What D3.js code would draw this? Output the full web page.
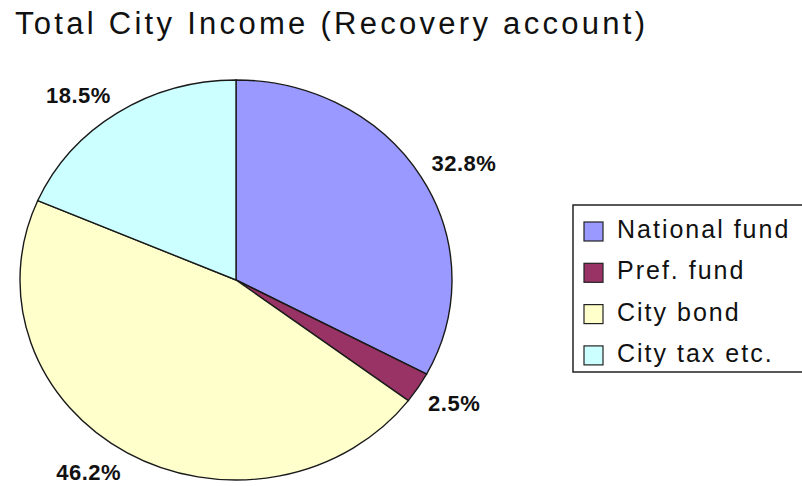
<!DOCTYPE html>
<html>
<head>
<meta charset="utf-8">
<script src="https://cdn.jsdelivr.net/npm/d3@7"></script>
<style>
  body { margin: 0; background: #fff; }
  svg { display: block; font-family: "Liberation Sans", Arial, sans-serif; }
</style>
</head>
<body>
<div id="chart"></div>
<script>
// data
const categories = ["National fund", "Pref. fund", "City bond", "City tax etc."];
const shares = [32.8, 2.5, 46.2, 18.5];
const colors = ["#9999ff", "#993366", "#ffffcc", "#ccffff"];

const width = 802, height = 486;
const cx = 236, cy = 280;
const ry = 200, rx = 216;   // the pie is a bit stretched sideways

const svg = d3.select("#chart").append("svg")
    .attr("width", width)
    .attr("height", height);

svg.append("rect").attr("width", width).attr("height", height).attr("fill", "#fff");

// title
svg.append("text")
    .attr("x", 15)
    .attr("y", 34)
    .attr("font-size", "31px")
    .attr("textLength", 630)
    .attr("lengthAdjust", "spacing")
    .attr("fill", "#111")
    .text("Total City Income (Recovery account)");

const pie = d3.pie().sort(null).value(d => d)(shares);
const arc = d3.arc().innerRadius(0).outerRadius(ry);

const g = svg.append("g")
    .attr("transform", `translate(${cx},${cy}) scale(${rx / ry},1)`);

g.selectAll("path")
    .data(pie)
    .join("path")
    .attr("d", arc)
    .attr("fill", (d, i) => colors[i])
    .attr("stroke", "#1a1a1a")
    .attr("stroke-width", 1.4)
    .attr("vector-effect", "non-scaling-stroke");

// percent labels just outside the rim
const off = 12;
svg.selectAll(".pct")
    .data(pie)
    .join("text")
    .attr("class", "pct")
    .each(function(d) {
        const a = (d.startAngle + d.endAngle) / 2;
        const sx = Math.sin(a), sy = -Math.cos(a);
        const x = cx + rx * sx + off * sx;
        const y = cy + ry * sy + off * sy;
        d3.select(this)
            .attr("x", x)
            .attr("y", y)
            .attr("text-anchor", sx >= 0 ? "start" : "end")
            .attr("dy", sy < 0 ? "0em" : "0.75em");
    })
    .attr("font-size", "22px")
    .attr("font-weight", "bold")
    .attr("letter-spacing", "0.5px")
    .attr("fill", "#111")
    .text(d => d3.format(".1f")(d.data) + "%");

// legend, its right side runs off the picture
const legend = svg.append("g").attr("transform", "translate(573,205)");
legend.append("rect")
    .attr("x", 0).attr("y", 0)
    .attr("width", 260).attr("height", 167)
    .attr("fill", "#fff")
    .attr("stroke", "#222")
    .attr("stroke-width", 1.5);

const item = legend.selectAll(".item")
    .data(categories)
    .join("g")
    .attr("class", "item")
    .attr("transform", (d, i) => `translate(0,${i * 41.3})`);

item.append("rect")
    .attr("x", 11).attr("y", 17)
    .attr("width", 19).attr("height", 19)
    .attr("fill", (d, i) => colors[i])
    .attr("stroke", "#222")
    .attr("stroke-width", 1.2);

item.append("text")
    .attr("x", 44)
    .attr("y", 33)
    .attr("font-size", "25px")
    .attr("letter-spacing", "2px")
    .attr("fill", "#111")
    .text(d => d);
</script>
</body>
</html>
